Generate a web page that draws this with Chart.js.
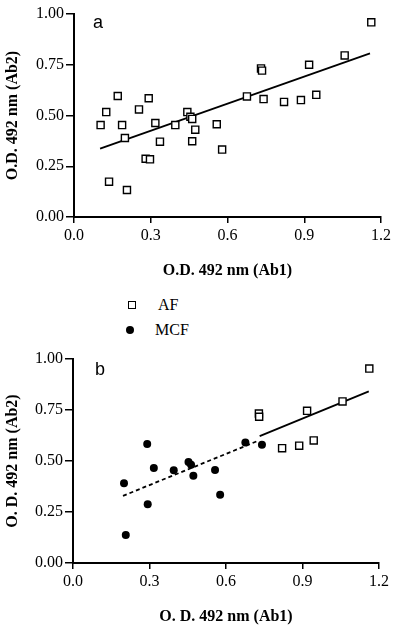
<!DOCTYPE html>
<html>
<head>
<meta charset="utf-8">
<script src="https://cdn.jsdelivr.net/npm/chart.js@4.4.1/dist/chart.umd.min.js"></script>
<style>
  body { margin: 0; background: #fff; }
  #wrap { position: relative; width: 400px; height: 629px; }
  .panel { position: absolute; left: 0; width: 400px; }
  #boxA { top: 0; height: 290px; }
  #boxB { top: 340px; height: 289px; }
  .leg { position: absolute; font: 16px "Liberation Serif", serif; color: #000; }
  .sq { position: absolute; width: 6px; height: 6px; border: 1.5px solid #000; }
  .dot { position: absolute; width: 8px; height: 8px; border-radius: 50%; background: #000; }
</style>
</head>
<body>
<div id="wrap">
  <div class="panel" id="boxA"><canvas id="chartA"></canvas></div>
  <div class="panel" id="boxB"><canvas id="chartB"></canvas></div>
  <div class="sq" style="left:128px;top:301px"></div>
  <div class="leg" style="left:158px;top:296px">AF</div>
  <div class="dot" style="left:126px;top:326px"></div>
  <div class="leg" style="left:155px;top:321px">MCF</div>
</div>
<script>
// Panel a: all samples (AF)
const aX = [0.104, 0.126, 0.171, 0.188, 0.199, 0.137, 0.207, 0.254, 0.292, 0.318,
            0.280, 0.297, 0.336, 0.396, 0.443, 0.455, 0.462, 0.474, 0.462, 0.558,
            0.579, 0.676, 0.731, 0.735, 0.741, 0.821, 0.887, 0.919, 0.947, 1.058, 1.162];
const aY = [0.453, 0.517, 0.596, 0.453, 0.389, 0.174, 0.133, 0.530, 0.585, 0.463,
            0.287, 0.284, 0.371, 0.453, 0.517, 0.494, 0.483, 0.430, 0.373, 0.457,
            0.332, 0.594, 0.732, 0.721, 0.581, 0.567, 0.576, 0.750, 0.602, 0.796, 0.959];
const aFitX = [0.102, 1.157];
const aFitY = [0.337, 0.806];

// Panel b: AF and MCF separated
const bAfX = [0.729, 0.730, 0.820, 0.887, 0.918, 0.944, 1.057, 1.162];
const bAfY = [0.733, 0.717, 0.563, 0.575, 0.746, 0.601, 0.792, 0.953];
const bMcfX = [0.200, 0.291, 0.293, 0.317, 0.395, 0.453, 0.463, 0.472, 0.557, 0.577, 0.676, 0.741, 0.207];
const bMcfY = [0.391, 0.583, 0.288, 0.466, 0.455, 0.495, 0.482, 0.428, 0.456, 0.334, 0.591, 0.580, 0.137];
const bAfFitX = [0.732, 1.160];
const bAfFitY = [0.622, 0.841];
const bMcfFitX = [0.196, 0.720];
const bMcfFitY = [0.329, 0.596];

const xTicks = [0, 0.3, 0.6, 0.9, 1.2];
const yTicks = [0, 0.25, 0.5, 0.75, 1.0];

const pts = (xs, ys) => xs.map((x, i) => ({ x: x, y: ys[i] }));
const serif = '"Liberation Serif", "Times New Roman", serif';

const panelLabel = {
    id: 'panelLabel',
    afterDraw(chart, args, opts) {
        const ctx = chart.ctx;
        ctx.save();
        ctx.font = '18px "Liberation Sans", Arial, sans-serif';
        ctx.fillStyle = '#000';
        ctx.textBaseline = 'middle';
        ctx.fillText(opts.text, chart.chartArea.left + opts.dx, chart.chartArea.top + opts.dy);
        ctx.restore();
    }
};

function makeChart(id, datasets, cfg) {
    return new Chart(document.getElementById(id), {
        type: 'scatter',
        data: { datasets: datasets },
        plugins: [panelLabel],
        options: {
            responsive: true,
            maintainAspectRatio: false,
            animation: false,
            layout: { padding: { top: cfg.top, right: cfg.right, left: 0, bottom: 0 } },
            plugins: {
                legend: { display: false },
                tooltip: { enabled: false },
                panelLabel: { text: cfg.label, dx: cfg.labelDx, dy: cfg.labelDy }
            },
            scales: {
                x: {
                    type: 'linear', min: 0, max: 1.2,
                    afterBuildTicks: s => { s.ticks = xTicks.map(v => ({ value: v })); },
                    afterFit: s => { s.height = cfg.xh; },
                    grid: { drawOnChartArea: false, color: '#000', tickLength: 6, lineWidth: 1.5 },
                    border: { color: '#000', width: 2 },
                    ticks: { color: '#000', font: { family: serif, size: 16 }, padding: 3,
                             callback: v => v.toFixed(1) },
                    title: { display: true, text: cfg.xTitle, color: '#000',
                             font: { family: serif, size: 16, weight: 'bold' },
                             padding: { bottom: cfg.xTitlePad, top: 0 } }
                },
                y: {
                    type: 'linear', min: 0, max: 1,
                    afterBuildTicks: s => { s.ticks = yTicks.map(v => ({ value: v })); },
                    afterFit: s => { s.width = cfg.yw; },
                    grid: { drawOnChartArea: false, color: '#000', tickLength: 8, lineWidth: 1.5 },
                    border: { color: '#000', width: 2 },
                    ticks: { color: '#000', font: { family: serif, size: 16 }, padding: 2,
                             callback: v => v.toFixed(2) },
                    title: { display: true, text: cfg.yTitle, color: '#000',
                             font: { family: serif, size: 16, weight: 'bold' },
                             padding: { top: 3, bottom: 0 } }
                }
            }
        }
    });
}

const square = { pointStyle: 'rect', pointRadius: 5, pointBorderWidth: 1.4,
                 borderColor: '#000', backgroundColor: '#fff', showLine: false };

makeChart('chartA', [
    Object.assign({ data: pts(aX, aY) }, square),
    { data: pts(aFitX, aFitY), showLine: true, pointRadius: 0, borderColor: '#000', borderWidth: 1.8 }
], { top: 14, right: 19, xh: 73, yw: 74, xTitlePad: 10, label: 'a', labelDx: 19, labelDy: 9,
     xTitle: 'O.D. 492 nm (Ab1)', yTitle: 'O.D. 492 nm (Ab2)' });

makeChart('chartB', [
    Object.assign({ data: pts(bAfX, bAfY) }, square),
    { data: pts(bMcfX, bMcfY), pointStyle: 'circle', pointRadius: 4, borderWidth: 0,
      backgroundColor: '#000', showLine: false },
    { data: pts(bAfFitX, bAfFitY), showLine: true, pointRadius: 0, borderColor: '#000', borderWidth: 1.8 },
    { data: pts(bMcfFitX, bMcfFitY), showLine: true, pointRadius: 0, borderColor: '#000',
      borderWidth: 1.8, borderDash: [4, 3] }
], { top: 19, right: 21, xh: 66, yw: 73, xTitlePad: 3, label: 'b', labelDx: 22, labelDy: 11,
     xTitle: 'O. D. 492 nm (Ab1)', yTitle: 'O. D. 492 nm (Ab2)' });
</script>
</body>
</html>
